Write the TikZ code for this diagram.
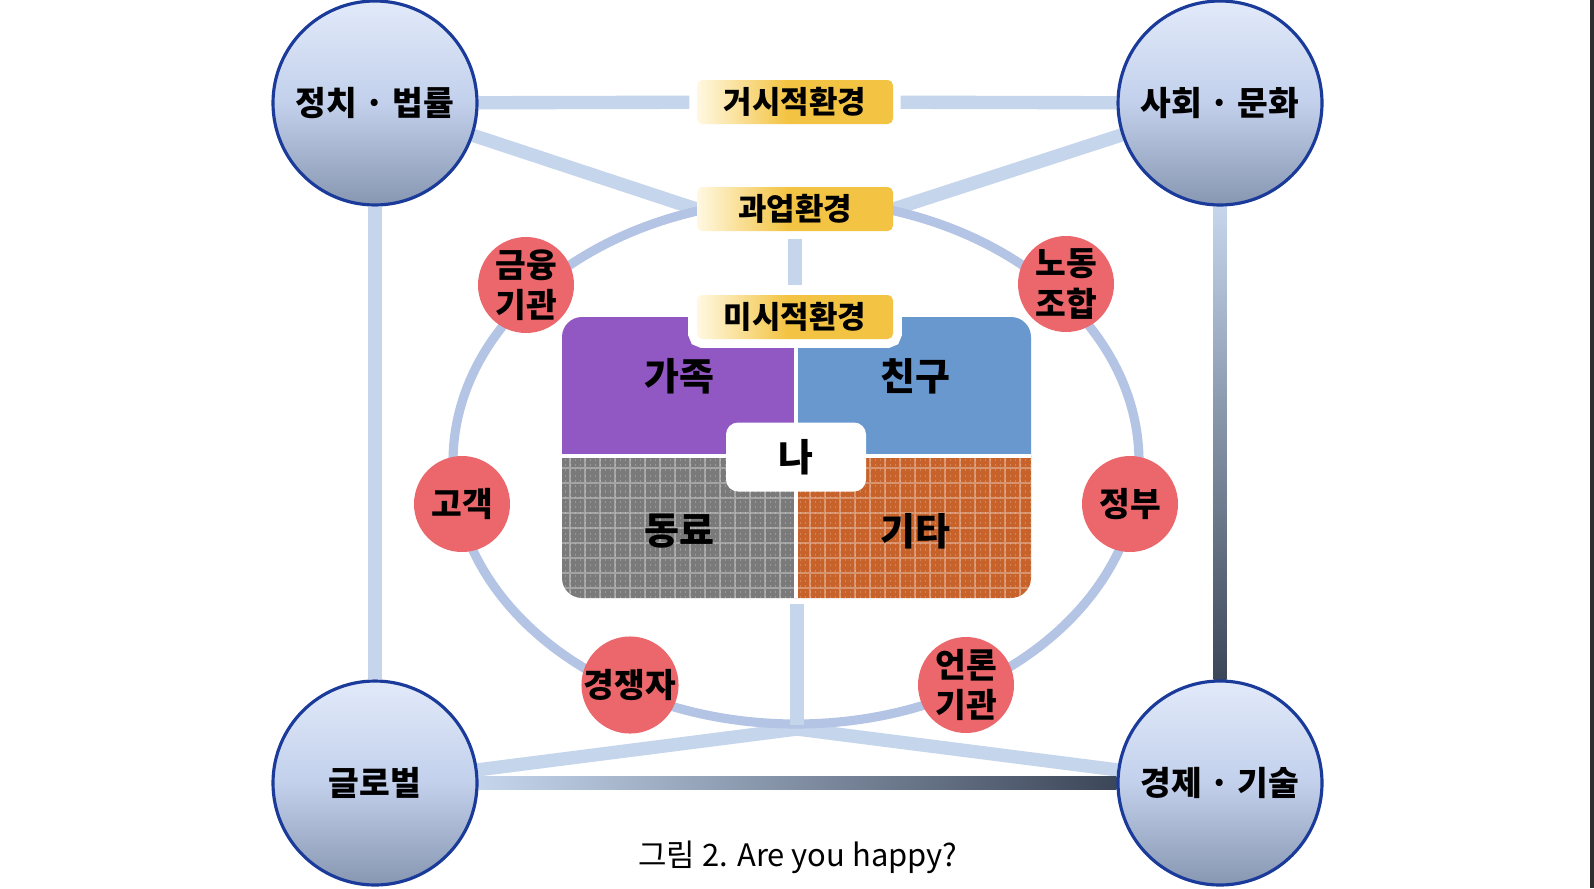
\documentclass[tikz,border=0pt]{standalone}
\usepackage{fontspec}
\setmainfont{Noto Sans CJK KR}
\usetikzlibrary{calc,backgrounds}
\definecolor{linkblue}{HTML}{C5D6EC}
\definecolor{ringblue}{HTML}{B4C4E4}
\definecolor{slate}{HTML}{3C4659}
\definecolor{rimblue}{HTML}{1B3B9B}
\definecolor{coraltone}{HTML}{EC676C}
\definecolor{famviolet}{HTML}{9158C4}
\definecolor{friendblue}{HTML}{6898CE}
\definecolor{workgrey}{HTML}{7A7A7A}
\definecolor{etcorange}{HTML}{C6622A}
\definecolor{ribcream}{HTML}{FFF8E2}
\definecolor{ribgold}{HTML}{F3C443}
\definecolor{orbtop}{HTML}{E2EAF9}
\definecolor{orbmid}{HTML}{C2D0EC}
\definecolor{orbbot}{HTML}{8796B1}
\pgfdeclarehorizontalshading{ribbonshade}{100bp}{color(0bp)=(ribcream); color(25bp)=(ribcream); color(48bp)=(ribgold); color(100bp)=(ribgold)}

\begin{document}
\begin{tikzpicture}[
  orb/.style={circle,draw=rimblue,line width=0.9pt,minimum size=2.04cm,inner sep=0pt,
    top color=orbtop,bottom color=orbbot,middle color=orbmid,font=\fontsize{9.5}{11}\selectfont\bfseries},
  party/.style={circle,fill=coraltone,minimum size=0.96cm,inner sep=0pt,align=center,
    font=\fontsize{9.5}{11.5}\selectfont\bfseries},
  ribbon/.style={shade,shading=ribbonshade,rounded corners=1.5pt,minimum width=1.96cm,
    minimum height=0.44cm,inner sep=0pt,font=\fontsize{8.8}{10}\selectfont\bfseries},
  link/.style={linkblue,line width=3.8pt},
  quadtext/.style={font=\fontsize{10.8}{12}\selectfont\bfseries}]

  \useasboundingbox (0,0) rectangle (15.94,8.88);

  % environments
  \node[orb] (pol) at (3.75,7.85) {정치 · 법률};
  \node[orb] (soc) at (12.20,7.85) {사회 · 문화};
  \node[orb] (glo) at (3.75,1.05) {글로벌};
  \node[orb] (eco) at (12.20,1.05) {경제 · 기술};

  \node[ribbon] (macro) at (7.95,7.86) {거시적환경};
  \node[ribbon] (task) at (7.95,6.79) {과업환경};

  % stakeholders
  \node[party] (fin) at (5.26,6.03) {금융\\기관};
  \node[party] (lab) at (10.66,6.04) {노동\\조합};
  \node[party] (cus) at (4.62,3.84) {고객};
  \node[party] (gov) at (11.30,3.84) {정부};
  \node[party] (riv) at (6.30,2.03) {경쟁자};
  \node[party] (med) at (9.66,2.03) {언론\\기관};

  % micro quadrants
  \foreach \xa/\ya/\xb/\yb/\qcol in {5.62/4.32/7.96/5.71/famviolet,7.96/4.32/10.31/5.71/friendblue,
      5.62/2.90/7.96/4.32/workgrey,7.96/2.90/10.31/4.32/etcorange}{
    \begin{scope}
      \clip (\xa,\ya) rectangle (\xb,\yb);
      \fill[\qcol,rounded corners=0.2cm] (5.62,2.90) rectangle (10.31,5.71);
    \end{scope}
  }
  \begin{scope}
    \clip[rounded corners=0.2cm] (5.62,2.90) rectangle (10.31,5.71);
    \clip (5.62,2.90) rectangle (10.31,4.32);
    \draw[white,opacity=0.32,line width=0.35pt,step=0.15] (5.62,2.90) grid (10.31,4.32);
    \draw[white,opacity=0.22,line width=0.3pt,xstep=0.05,ystep=10,dash pattern=on 0.6pt off 0.9pt]
      (5.62,2.90) grid (10.31,4.32);
  \end{scope}
  \draw[white,line width=0.9pt] (7.96,2.90) -- (7.96,5.71);
  \draw[white,line width=0.9pt] (5.62,4.32) -- (10.31,4.32);

  \node[quadtext] (fam) at (6.79,5.12) {가족};
  \node[quadtext] (frd) at (9.15,5.12) {친구};
  \node[quadtext] (col) at (6.79,3.57) {동료};
  \node[quadtext] (etc) at (9.15,3.57) {기타};
  \node[quadtext,fill=white,rounded corners=0.12cm,minimum width=1.40cm,minimum height=0.69cm] (me) at (7.96,4.31) {나};
  \node[ribbon,preaction={draw=white,line width=5pt}] (micro) at (7.95,5.71) {미시적환경};

  \coordinate (qbot) at (7.97,2.84);
  \coordinate (junc) at (7.97,1.59);

  \node[font=\fontsize{8.8}{10}\selectfont] (cap) at (7.98,0.31) {그림 2. Are you happy?};

  \begin{scope}[on background layer]
    \fill[white] (0,0) rectangle (15.94,8.88);
    \fill[black!82] (15.90,0) rectangle (15.94,8.88);
    \draw[link,shorten >=0.07cm] (pol) -- (macro);
    \draw[link,shorten <=0.07cm] (macro) -- (soc);
    \draw[link] (pol) -- (task.west);
    \draw[link] (soc) -- (task.east);
    \draw[link] (pol) -- (glo);
    \draw[link] (glo) -- (junc) -- (eco);
    \fill[top color=linkblue,bottom color=slate] ($(soc.south)+(-0.065,0)$) rectangle ($(eco.north)+(0.065,0)$);
    \fill[left color=linkblue,right color=slate] ($(glo.east)+(0,-0.065)$) rectangle ($(eco.west)+(0,0.065)$);
    \draw[ringblue,line width=2.6pt] (7.96,4.26) ellipse [x radius=3.43,y radius=2.62];
    \draw[link,shorten <=0.07cm,shorten >=0.09cm] (task) -- (micro);
    \draw[link,shorten >=0.04cm] (qbot) -- (junc);
  \end{scope}
\end{tikzpicture}
\end{document}
